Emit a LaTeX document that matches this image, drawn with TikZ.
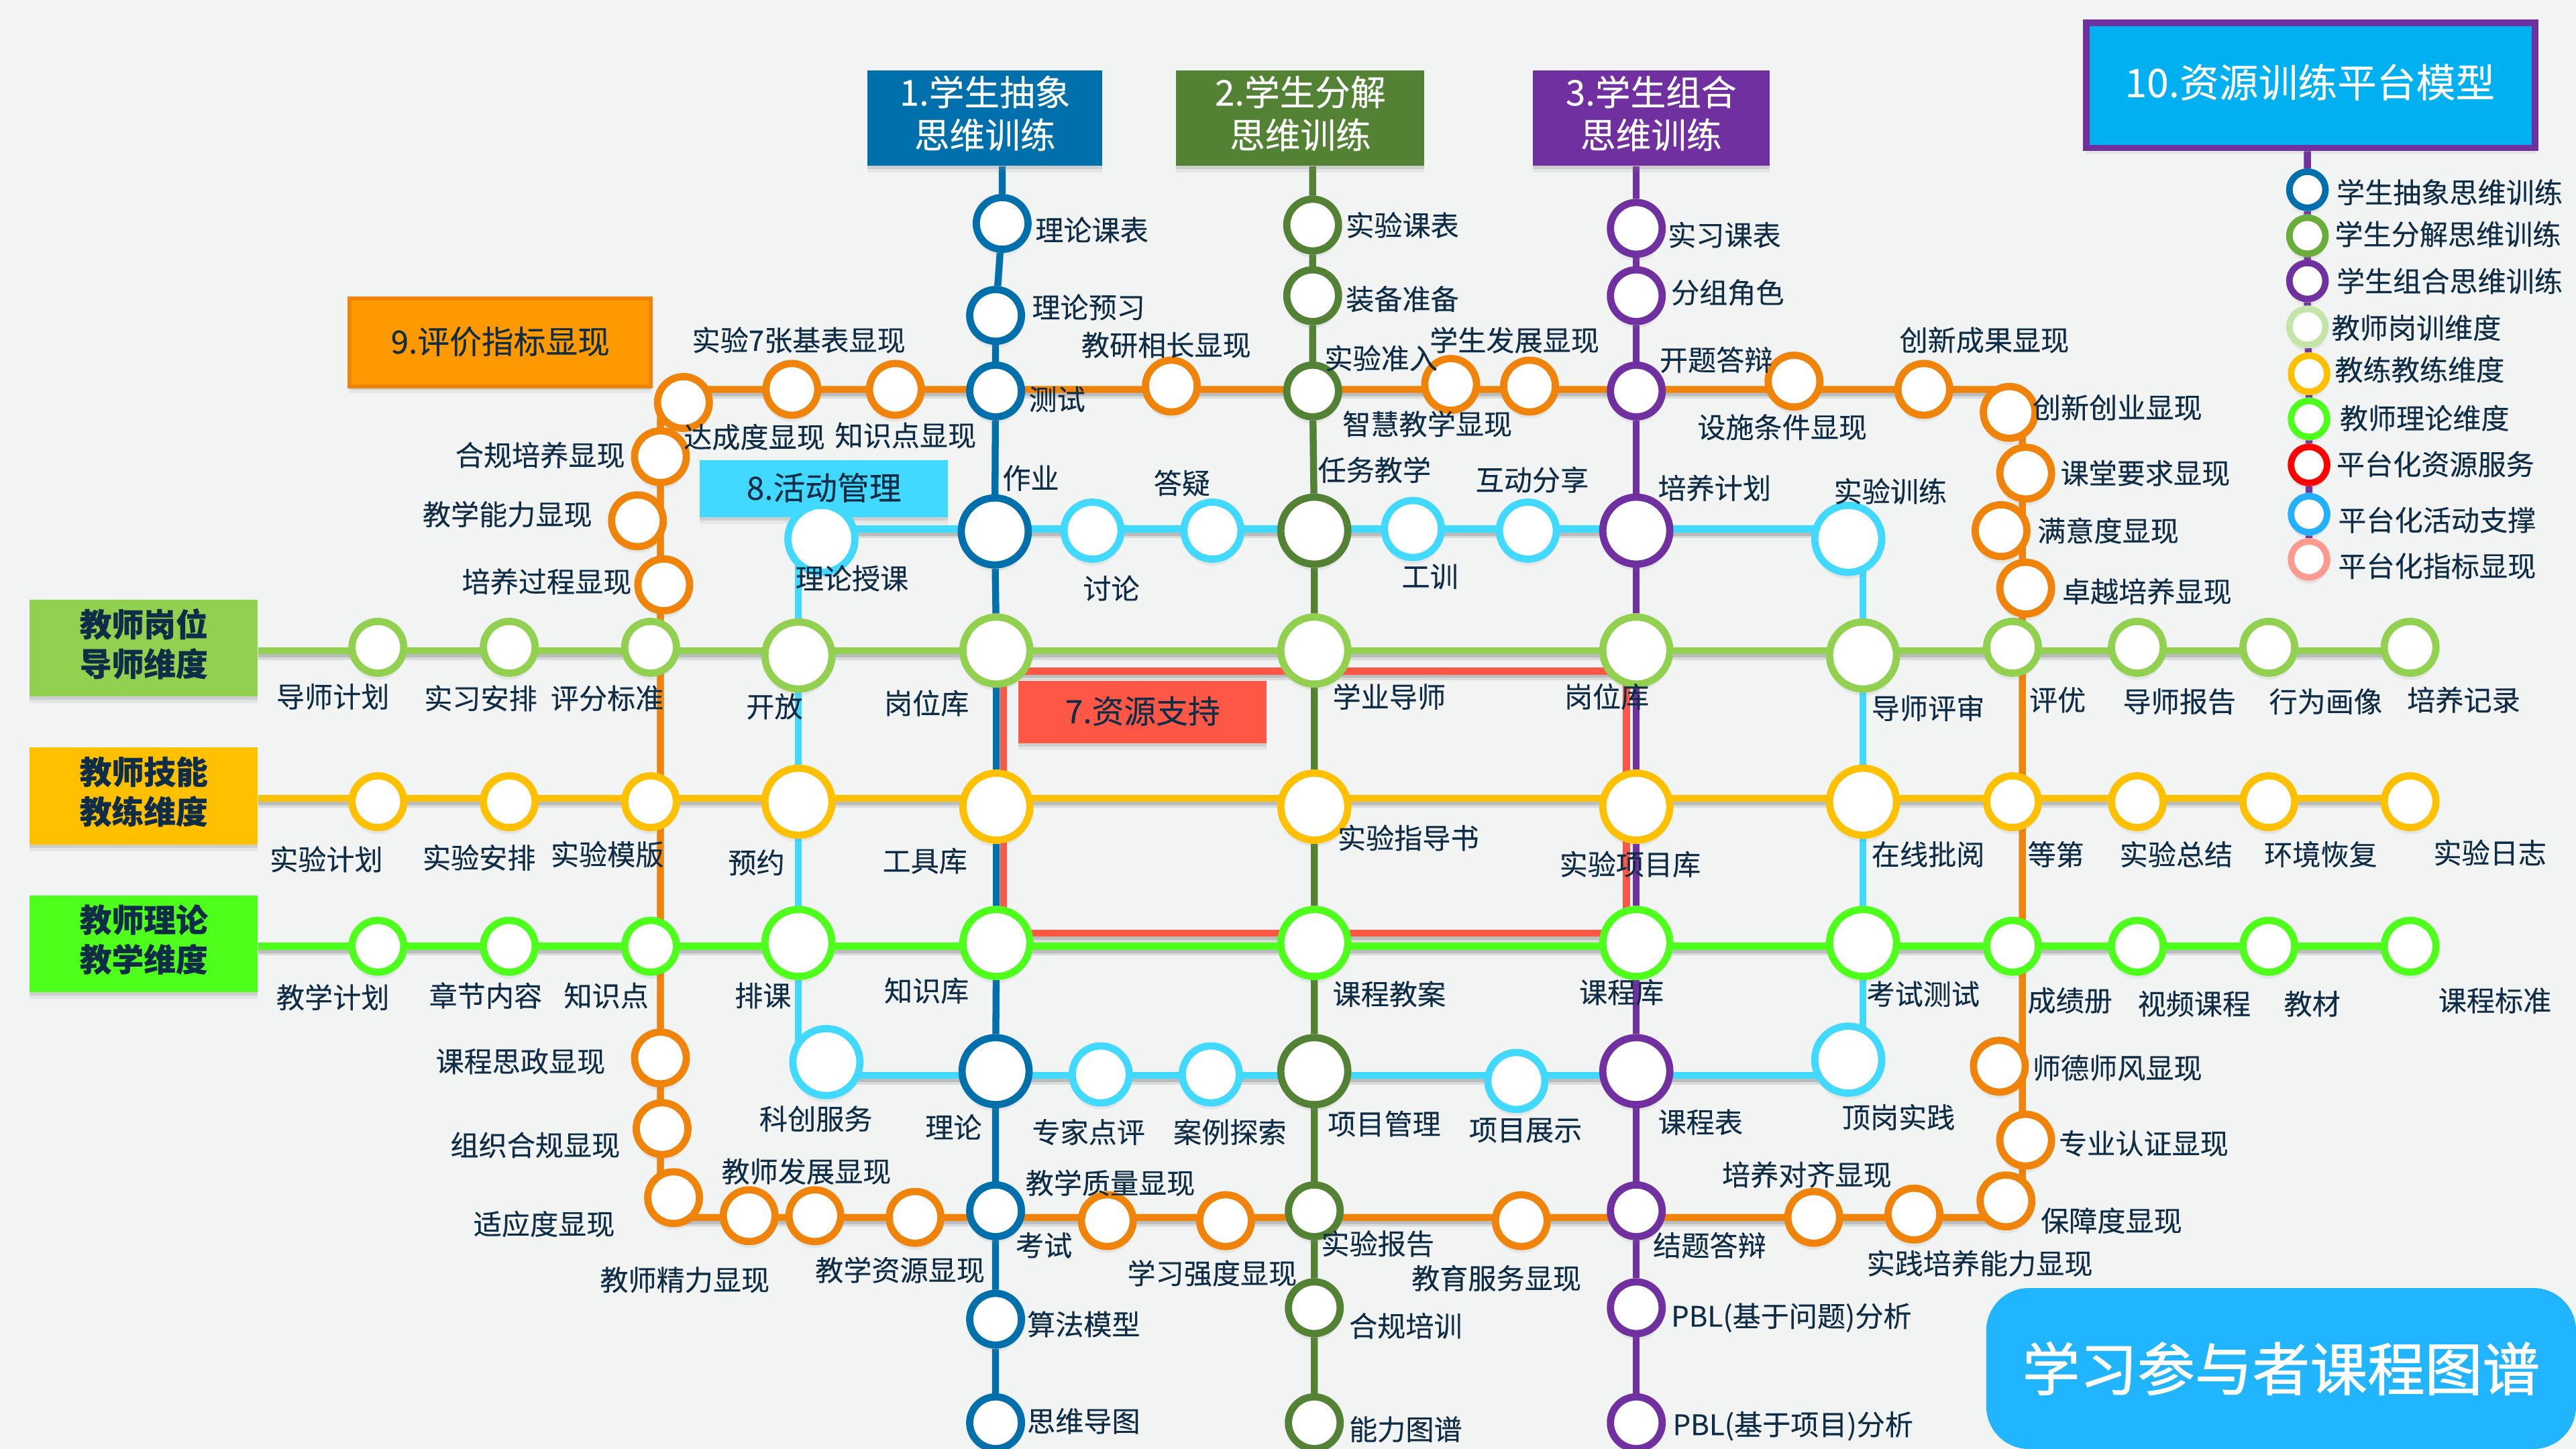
\documentclass[tikz,border=0pt]{standalone}
\usepackage{fontspec}
\setmainfont[FakeBold=0.2]{Noto Sans CJK SC}
\newfontfamily\titlefont[FakeBold=1.1]{Noto Sans CJK SC}
\usetikzlibrary{shadows}

\definecolor{bgc}{HTML}{F2F4F4}
\definecolor{ink}{HTML}{0F2D46}
\definecolor{lblue}{HTML}{0070AC}
\definecolor{lgreen}{HTML}{548235}
\definecolor{lpurple}{HTML}{7030A0}
\definecolor{rowa}{HTML}{92D050}
\definecolor{rowb}{HTML}{FFC000}
\definecolor{rowc}{HTML}{4DFF1A}
\definecolor{lcyan}{HTML}{41D9FF}
\definecolor{lorange}{HTML}{F0830A}
\definecolor{lred}{HTML}{FF5745}

\pgfdeclarelayer{back}
\pgfdeclarelayer{lines}
\pgfsetlayers{back,lines,main}

\newcommand{\twoline}[3][1.5pt]{\raisebox{#1}{\begin{tabular}{@{}c@{}}#2\\#3\end{tabular}}}
\newcommand{\uptag}[1]{\raisebox{3pt}{#1}}

\tikzset{
  softshadow/.style={drop shadow={shadow xshift=0pt,shadow yshift=-4pt,opacity=.12},
    drop shadow={shadow xshift=0pt,shadow yshift=-2pt,opacity=.22}},
  metro/.style={line width=4.2pt,preaction={draw=black,opacity=.1,line width=4.2pt,transform canvas={yshift=-3.5pt}},
    preaction={draw=black,opacity=.14,line width=4.2pt,transform canvas={yshift=-2pt}}},
  stn/.style={circle,fill=white,inner sep=0pt,minimum size=31.5pt,line width=4.4pt,softshadow},
  midstn/.style={stn,minimum size=34.7pt},
  bigstn/.style={stn,minimum size=40.8pt},
  legstn/.style={stn,minimum size=22pt,line width=4pt},
  lab/.style={anchor=west,inner sep=0pt,text=ink,font=\fontsize{17.2}{18}\selectfont},
  linebox/.style={inner sep=0pt,text=white,softshadow,font=\fontsize{21.5}{26}\selectfont},
  dimbox/.style={inner sep=0pt,text=ink,softshadow,minimum width=139pt,minimum height=59pt,font=\fontsize{19.5}{24}\selectfont\bfseries},
  tagbox/.style={inner sep=0pt,text=ink,softshadow,font=\fontsize{19.5}{22}\selectfont},
}

\begin{document}
\begin{tikzpicture}[x=1pt,y=-1pt]
  \useasboundingbox (0,0) rectangle (1568,882);
  \begin{pgfonlayer}{back}
    \fill[bgc] (0,0) rectangle (1568,882);
  \end{pgfonlayer}

  % boxes
  \node[linebox,fill=lblue,minimum width=143pt,minimum height=58pt] (box1) at (599.5,72) {\twoline[0pt]{1.学生抽象}{思维训练}};
  \node[linebox,fill=lgreen,minimum width=151pt,minimum height=58pt] (box2) at (791.5,72) {\twoline[0pt]{2.学生分解}{思维训练}};
  \node[linebox,fill=lpurple,minimum width=144pt,minimum height=58pt] (box3) at (1005,72) {\twoline[0pt]{3.学生组合}{思维训练}};
  \node[linebox,fill={rgb,255:red,0;green,176;blue,240},draw=lpurple,line width=4pt,minimum width=273pt,minimum height=76pt] (box10) at (1406.5,52) {};
  \node[inner sep=0pt,text=white,font=\fontsize{24}{26}\selectfont] (box10t) at (1406,50) {10.资源训练平台模型};
  \node[tagbox,fill={rgb,255:red,255;green,153;blue,0},draw=lorange,line width=2.5pt,minimum width=183.5pt,minimum height=53.5pt] (box9) at (304.5,208.5) {\uptag{9.评价指标显现}};
  \node[tagbox,fill=lcyan,minimum width=151pt,minimum height=35pt] (box8) at (501.5,297.5) {\uptag{8.活动管理}};
  \node[tagbox,fill=lred,minimum width=151pt,minimum height=38pt] (box7) at (695.5,433.5) {\uptag{7.资源支持}};
  \node[dimbox,fill=rowa] (dima) at (87.5,394.5) {\twoline{教师岗位}{导师维度}};
  \node[dimbox,fill=rowb] (dimb) at (87.5,484.5) {\twoline{教师技能}{教练维度}};
  \node[dimbox,fill=rowc] (dimc) at (87.5,574.5) {\twoline{教师理论}{教学维度}};
  \node[inner sep=0pt,minimum width=359pt,minimum height=98pt,rounded corners=26pt,fill={rgb,255:red,34;green,181;blue,255},text=white,font=\titlefont\fontsize{35}{38}\selectfont] (title) at (1388.5,833) {学习参与者课程图谱};

  % rows
  \foreach \nm/\x/\y in {a1/230/394,a2/310/394,a3/396/394,a9/1225/394,a10/1301/394,a11/1381/394,a12/1467/394}
    \node[stn,draw=rowa] (\nm) at (\x,\y) {};
  \foreach \nm/\x/\y in {a4/486/399,a5/606.5/396,a6/800/396,a7/996/396,a8/1134/399}
    \node[bigstn,draw=rowa] (\nm) at (\x,\y) {};
  \foreach \nm/\x/\y in {b1/230/488,b2/310/488,b3/396/488,b9/1225/488,b10/1301/488,b11/1381/488,b12/1467/488}
    \node[stn,draw=rowb] (\nm) at (\x,\y) {};
  \foreach \nm/\x/\y in {b4/486/488,b5/606.5/491,b6/800/491,b7/996/491,b8/1134/488}
    \node[bigstn,draw=rowb] (\nm) at (\x,\y) {};
  \foreach \nm/\x/\y in {c1/230/576,c2/310/576,c3/396/576,c9/1225/576,c10/1301/576,c11/1381/576,c12/1467/576}
    \node[stn,draw=rowc] (\nm) at (\x,\y) {};
  \foreach \nm/\x/\y in {c4/486/574,c5/606.5/574,c6/800/574,c7/996/574,c8/1134/574}
    \node[bigstn,draw=rowc] (\nm) at (\x,\y) {};

  % the three training lines
  \foreach \nm/\x/\y in {u1/610/136,u2/606/192,u3/606/238,u5/606/737,u6/606/803,u7/606/866}
    \node[stn,draw=lblue] (\nm) at (\x,\y) {};
  \foreach \nm/\x/\y in {v1/799/137,v2/799/180,v3/799/238,v5/800/737,v6/800/796,v7/800/866}
    \node[stn,draw=lgreen] (\nm) at (\x,\y) {};
  \foreach \nm/\x/\y in {w1/996/139,w2/996/180,w3/996/238,w5/996/737,w6/996/796,w7/996/866}
    \node[stn,draw=lpurple] (\nm) at (\x,\y) {};
  \node[bigstn,draw=lblue] (u4) at (605.5,323.5) {};
  \node[bigstn,draw=lblue] (u8) at (606,652) {};
  \node[bigstn,draw=lgreen] (v4) at (800,323) {};
  \node[bigstn,draw=lgreen] (v8) at (800,652) {};
  \node[bigstn,draw=lpurple] (w4) at (996,323) {};
  \node[bigstn,draw=lpurple] (w8) at (996,652) {};

  % activity stations
  \foreach \nm/\x/\y in {m1/500/328,m2/1125/328,n1/503/646.5,n2/1125/645}
    \node[bigstn,draw=lcyan] (\nm) at (\x,\y) {};
  \foreach \nm/\x/\y in {m3/665/323,m4/738/323,m5/860/322,m6/930/323,n3/670/654,n4/737/654,n5/923/658}
    \node[midstn,draw=lcyan] (\nm) at (\x,\y) {};

  % indicator stations
  \foreach \nm/\x/\y in {o1/416/245,o2/482/237,o3/545/237,o4/713/235,o5/883/234,o6/931/235,o7/1092/232,o8/1171/237,o9/1223/251,o10/1233/288,o11/1218/323,o12/1233/358,o13/1217/649,o14/1233/694,o15/1221/731,o16/1165/739,o17/1104/741,o18/926/743,o19/746/743,o20/674/743,o21/557/741,o22/496/740,o23/456/740,o24/410/729,o25/403/687,o26/402/644,o27/402/278,o28/388/317,o29/404/356}
    \node[stn,draw=lorange] (\nm) at (\x,\y) {};

  % legend
  \foreach \nm/\x/\y/\col in {l1/1404.5/115.5/lblue,l2/1404.5/143.5/{rgb,255:red,106;green,173;blue,58},l3/1404.5/171/lpurple,l4/1404.5/199/{rgb,255:red,197;green,229;blue,168},l5/1405.5/227.5/rowb,l6/1405.5/255/rowc,l7/1405.5/283/{rgb,255:red,255;green,0;blue,0},l8/1405.5/313/{rgb,255:red,34;green,176;blue,255},l9/1405.5/340.5/{rgb,255:red,255;green,154;blue,144}}
    \node[legstn,draw=\col] (\nm) at (\x,\y) {};

  \foreach \x/\y/\t [count=\i] in {
    1422/117/学生抽象思维训练,1421/142.5/学生分解思维训练,1422/171/学生组合思维训练,1419/199.5/教师岗训维度,
    1421/225/教练教练维度,1424/254.5/教师理论维度,1422/282.5/平台化资源服务,1423/316.5/平台化活动支撑,1423/344.5/平台化指标显现,
    630/140/理论课表,628/187/理论预习,626/243/测试,610/291/作业,659/358/讨论,702/294/答疑,
    819/137/实验课表,819/182/装备准备,806/218/实验准入,802/286/任务教学,817/258/智慧教学显现,870/207/学生发展显现,853/351/工训,898/292/互动分享,
    1015/143/实习课表,1017/178/分组角色,1010/219/开题答辩,1033/260/设施条件显现,1009/297/培养计划,1116/299/实验训练,
    1156/207/创新成果显现,1237/248/创新创业显现,1254/288/课堂要求显现,1240/323/满意度显现,1255/360/卓越培养显现,
    421/207/实验7张基表显现,658/210/教研相长显现,416/266/达成度显现,508/265/知识点显现,277/277/合规培养显现,257/313/教学能力显现,281/354/培养过程显现,484/352/理论授课,
    168/424/导师计划,258/425/实习安排,335/425/评分标准,454/430/开放,538/428/岗位库,811/424/学业导师,952/424/岗位库,1139/431/导师评审,1235/426/评优,1292/427/导师报告,1381/427/行为画像,1465/426/培养记录,
    164/523/实验计划,257/522/实验安排,335/520/实验模版,443/525/预约,537/524/工具库,814/510/实验指导书,949/526/实验项目库,1139/520/在线批阅,1234/520/等第,1290/520/实验总结,1378/520/环境恢复,1481/519/实验日志,
    168/607/教学计划,261/606/章节内容,343/606/知识点,447/606/排课,538/603/知识库,811/605/课程教案,961/604/课程库,1136/605/考试测试,1234/609/成绩册,1301/611/视频课程,1390/611/教材,1484/609/课程标准,
    265/646/课程思政显现,274/697/组织合规显现,288/745/适应度显现,439/713/教师发展显现,365/779/教师精力显现,496/773/教学资源显现,
    462/681/科创服务,563/686/理论,628/689/专家点评,714/689/案例探索,808/684/项目管理,894/688/项目展示,1009/683/课程表,1121/680/顶岗实践,
    1237/650/师德师风显现,1253/696/专业认证显现,1242/743/保障度显现,1048/715/培养对齐显现,1006/758/结题答辩,1136/769/实践培养能力显现,
    624/720/教学质量显现,618/758/考试,686/775/学习强度显现,804/757/实验报告,859/778/教育服务显现,625/806/算法模型,821/807/合规培训,625/865/思维导图,821/870/能力图谱,
    1017/802/PBL(基于问题)分析,1018/868/PBL(基于项目)分析}
    \node[lab] (lab\i) at (\x,\y) {\t};

  \coordinate (arow) at (0,396);
  \coordinate (brow) at (0,486);
  \coordinate (crow) at (0,576);
  \coordinate (mrow) at (0,322);
  \coordinate (nrow) at (0,654.5);
  \coordinate (onw) at (402,237);
  \coordinate (one) at (1231,237);
  \coordinate (ose) at (1231,741);
  \coordinate (osw) at (402,741);
  \coordinate (rnw) at (611,408.5);
  \coordinate (rne) at (990,408.5);
  \coordinate (rse) at (990,568);
  \coordinate (rsw) at (611,568);

  \begin{pgfonlayer}{lines}
    \draw[metro,lred] (rnw) -- (rne) -- (rse) -- (rsw) -- cycle;
    \draw[metro,lcyan] (m1 |- mrow) -- (m2 |- mrow);
    \draw[metro,lcyan] (n1 |- nrow) -- (n2 |- nrow);
    \draw[metro,lcyan] (m1 -| a4) -- (n1 -| a4);
    \draw[metro,lcyan] (m2 -| a8) -- (n2 -| a8);
    \draw[metro,lorange,rounded corners=18pt] (onw) -- (one) -- (ose) -- (osw) -- cycle;
    \draw[metro,rowa] (dima.east |- arow) -- (a12 |- arow);
    \draw[metro,rowb] (dimb.east |- brow) -- (b12 |- brow);
    \draw[metro,rowc] (dimc.east |- crow) -- (c12 |- crow);
    \draw[metro,lblue] (box1.south -| u1) -- (u1) -- (u2) -- (u3) -- (u4) -- (a5) -- (b5) -- (c5) -- (u8) -- (u5) -- (u6) -- (u7);
    \draw[metro,lgreen] (box2.south -| v1) -- (v1) -- (v2) -- (v3) -- (v4) -- (a6) -- (b6) -- (c6) -- (v8) -- (v5) -- (v6) -- (v7);
    \draw[metro,lpurple] (box3.south -| w1) -- (w1) -- (w2) -- (w3) -- (w4) -- (a7) -- (b7) -- (c7) -- (w8) -- (w5) -- (w6) -- (w7);
    \draw[metro,lpurple] (box10.south -| l1) -- (l1) -- (l2) -- (l3) -- (l4) -- (l5) -- (l6) -- (l7) -- (l8) -- (l9);
  \end{pgfonlayer}
\end{tikzpicture}
\end{document}
